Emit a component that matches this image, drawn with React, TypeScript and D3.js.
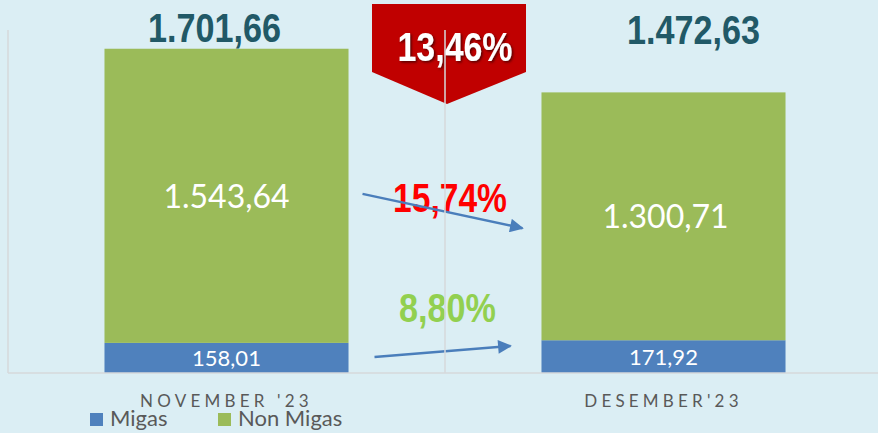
import React from "react";
import * as d3 from "d3";

const categories = ["NOVEMBER '23", "DESEMBER'23"];
const migas = [158.01, 171.92];
const nonMigas = [1543.64, 1300.71];
const totals = [1701.66, 1472.63];
const totalLabels = ["1.701,66", "1.472,63"];
const migasLabels = ["158,01", "171,92"];
const nonMigasLabels = ["1.543,64", "1.300,71"];
const changeTotal = "13,46%";
const changeNonMigas = "15,74%";
const changeMigas = "8,80%";
const seriesNames = ["Migas", "Non Migas"];

const W = 878;
const H = 433;
const BG = "#dbeef4";
const BLUE = "#4f81bd";
const GREEN = "#9bbb59";
const GRID = "#d6d9db";
const NARROW = "'Liberation Sans', Arial, sans-serif";
const BODY = "Lato, 'Open Sans', sans-serif";

export default function App() {
  const x = d3
    .scaleBand<string>()
    .domain(categories)
    .range([8, 882])
    .paddingInner(0.4416)
    .paddingOuter(0.2208);
  const y = d3.scaleLinear().domain([0, 1800]).range([373, 30]);
  const bw = x.bandwidth();
  const step = x.step();
  const boundaries = [0, 1, 2].map((i) => 8 + i * step);
  const mid = boundaries[1];
  const novRight = (x(categories[0]) as number) + bw;
  const decLeft = x(categories[1]) as number;

  const pentagon = d3.line()([
    [mid - 73, 4],
    [mid + 81, 4],
    [mid + 81, 72],
    [mid + 2, 104],
    [mid - 73, 72],
  ] as [number, number][]) + "Z";

  const arrowTop = { x1: novRight + 14, y1: y(940), x2: decLeft - 19, y2: y(760) };
  const arrowBot = { x1: novRight + 26, y1: y(84), x2: decLeft - 31, y2: y(142) };

  const narrowProps = (w: number) => ({
    fontFamily: NARROW,
    fontWeight: "bold" as const,
    fontSize: 41,
    textLength: w,
    lengthAdjust: "spacingAndGlyphs" as const,
  });

  return (
    <svg width={W} height={H} style={{ position: "absolute", left: 0, top: 0, display: "block" }}>
      <defs>
        <marker id="ah" viewBox="0 0 10 10" refX="9" refY="5" markerWidth="6.5" markerHeight="5.5" orient="auto" markerUnits="strokeWidth">
          <path d="M0,0 L10,5 L0,10 Z" fill="#4a7ebb" />
        </marker>
        <filter id="sh" x="-20%" y="-20%" width="140%" height="140%">
          <feDropShadow dx="1.5" dy="1.5" stdDeviation="0.8" floodColor="#400000" floodOpacity="0.8" />
        </filter>
      </defs>
      <rect x={0} y={0} width={W} height={H} fill={BG} />

      {/* bars */}
      {categories.map((c, i) => (
        <g key={c}>
          <rect x={x(c)} y={y(migas[i])} width={bw} height={y(0) - y(migas[i])} fill={BLUE} />
          <rect
            x={x(c)}
            y={y(migas[i] + nonMigas[i])}
            width={bw}
            height={y(migas[i]) - y(migas[i] + nonMigas[i])}
            fill={GREEN}
          />
          <text
            x={(x(c) as number) + bw / 2}
            y={y(migas[i] / 2) + 8}
            textAnchor="middle"
            fill="#fff"
            fontFamily={BODY}
            fontSize={22}
          >
            {migasLabels[i]}
          </text>
          <text
            x={(x(c) as number) + bw / 2 + (i === 0 ? 0 : 2)}
            y={y(migas[i] + nonMigas[i] / 2) + 12}
            textAnchor="middle"
            fill="#fff"
            fontFamily={BODY}
            fontSize={32}
          >
            {nonMigasLabels[i]}
          </text>
          <text
            x={(x(c) as number) + bw / 2 + (i === 0 ? -12 : 30)}
            y={y(totals[i]) - 7 - (i === 0 ? 0 : 41.5)}
            textAnchor="middle"
            fill="#215967"
            {...narrowProps(133)}
          >
            {totalLabels[i]}
          </text>
          <text
            x={(x(c) as number) + bw / 2}
            y={407}
            textAnchor="middle"
            fill="#595959"
            fontFamily={BODY}
            fontSize={17}
            letterSpacing={4.2}
          >
            {c}
          </text>
        </g>
      ))}

      {/* red badge */}
      <path d={pentagon} fill="#c00000" />
      <text x={mid + 10} y={61} textAnchor="middle" fill="#fff" filter="url(#sh)" {...narrowProps(115)}>
        {changeTotal}
      </text>

      {/* percent labels */}
      <text x={mid + 5} y={212} textAnchor="middle" fill="#ff0000" {...narrowProps(114)}>
        {changeNonMigas}
      </text>
      <text x={mid + 2.5} y={322} textAnchor="middle" fill="#92d050" {...narrowProps(97)}>
        {changeMigas}
      </text>

      {/* arrows */}
      {[arrowTop, arrowBot].map((a, k) => (
        <line key={k} x1={a.x1} y1={a.y1} x2={a.x2} y2={a.y2} stroke="#4a7ebb" strokeWidth={2.5} markerEnd="url(#ah)" />
      ))}

      {/* gridlines */}
      {boundaries.map((b, k) => (
        <line key={k} x1={b} x2={b} y1={y(1800)} y2={y(0)} stroke={GRID} strokeWidth={1.5} />
      ))}
      <line x1={8} x2={882} y1={y(0)} y2={y(0)} stroke={GRID} strokeWidth={1.5} />

      {/* legend */}
      {seriesNames.map((s, k) => {
        const lx = k === 0 ? 90 : 218;
        return (
          <g key={s}>
            <rect x={lx} y={413} width={13} height={13} fill={k === 0 ? BLUE : GREEN} />
            <text x={lx + 20} y={426} fill="#595959" fontFamily={BODY} fontSize={22}>
              {s}
            </text>
          </g>
        );
      })}
    </svg>
  );
}
